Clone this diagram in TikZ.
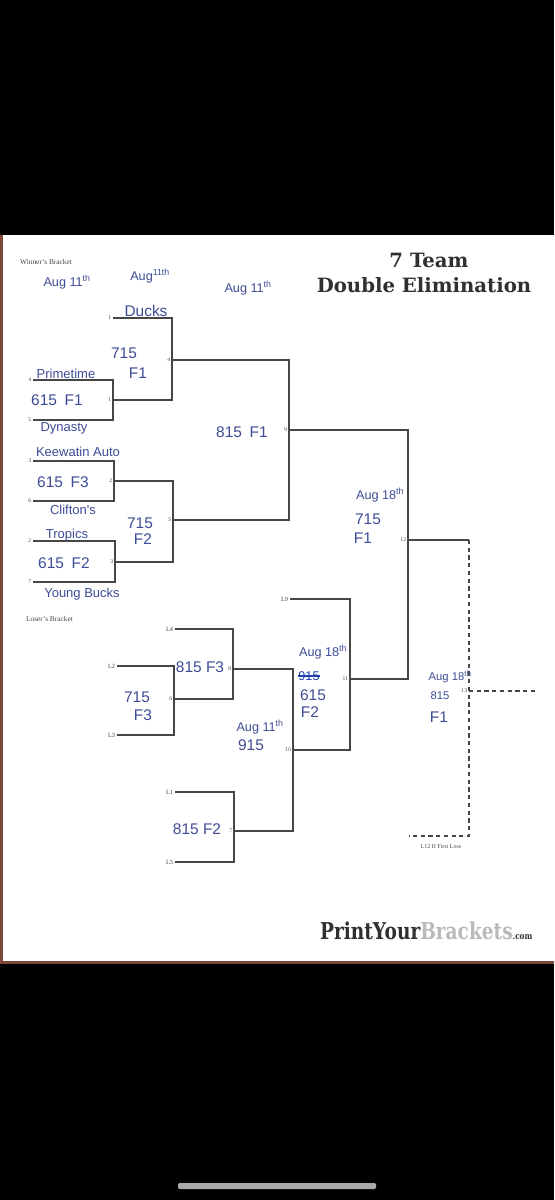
\documentclass[tikz,border=0pt]{standalone}
\usepackage{fontspec}
\setmainfont{Liberation Serif}
\newfontfamily\handfont{Liberation Sans}
\newfontfamily\slabfont{DejaVu Serif}
\newfontfamily\brandfont[FakeStretch=0.8]{DejaVu Serif}
\usetikzlibrary{calc}
\definecolor{cInk}{RGB}{62,76,150}
\definecolor{cInkDark}{RGB}{30,62,175}
\definecolor{cLine}{RGB}{70,70,70}
\definecolor{cTitle}{RGB}{48,48,48}
\definecolor{cBrandLight}{RGB}{185,185,185}
\definecolor{cEdge}{RGB}{125,72,58}
\definecolor{cBar}{RGB}{170,170,170}
\tikzset{
	bline/.style ={draw=cLine, line width=1.9pt},
	dline/.style ={draw=cLine, line width=1.9pt, dash pattern=on 6pt off 5pt},
	num/.style   ={anchor=east, inner sep=2.5pt, text=cLine, font=\fontsize{8}{8}\selectfont},
	lnum/.style  ={anchor=east, inner sep=2.5pt, text=cLine, font=\fontsize{9}{9}\selectfont},
	hand/.style  ={text=cInk, inner sep=0pt, font=\handfont\fontsize{22}{24}\selectfont},
	handname/.style={text=cInk, inner sep=0pt, font=\handfont\fontsize{18.5}{20}\selectfont},
	handsm/.style={text=cInk, inner sep=0pt, font=\handfont\fontsize{18}{20}\selectfont},
	handxs/.style={text=cInk, inner sep=0pt, font=\handfont\fontsize{16}{18}\selectfont},
	caption/.style={text=cLine, inner sep=0pt, font=\fontsize{10.5}{11}\selectfont},
	heading/.style={text=cTitle, inner sep=0pt, font=\slabfont\bfseries\fontsize{28}{30}\selectfont},
}

\begin{document}
\begin{tikzpicture}[x=0.05cm, y=-0.05cm]
	% ---------------- screen and paper ----------------
	\fill[black] (0,0) rectangle (554,1200);
	\fill[cEdge] (0,235) rectangle (554,964);
	\fill[white] (3,235) rectangle (554,961);
	\fill[cBar, rounded corners=2pt] (178,1183) rectangle (376,1189);

	% ---------------- headings ----------------
	\node[heading] (ttl1) at (429,260) {7 Team};
	\node[heading] (ttl2) at (424,285) {Double Elimination};
	\node[caption, anchor=west] (wcap) at (20,262) {Winner's Bracket};
	\node[caption, anchor=west] (lcap) at (26,619) {Loser's Bracket};
	\node[anchor=west, inner sep=0pt, font=\brandfont\bfseries\fontsize{33}{35}\selectfont] (brand) at (320,931)
		{\textcolor{cTitle}{PrintYour}\textcolor{cBrandLight}{Brackets}\textcolor{cTitle}{\fontsize{13}{13}\selectfont.com}};

	% ---------------- winner's bracket ----------------
	\coordinate (m1) at (113,400);
	\coordinate (m2) at (114,481);
	\coordinate (m3) at (115,562);
	\coordinate (m4) at (172,360);
	\coordinate (m5) at (173,520);
	\coordinate (m9) at (289,430);
	\coordinate (m12) at (408,540);
	\node[num] (s1) at (113,318) {1};
	\node[num] (s4) at (33,380) {4};
	\node[num] (s5) at (33,420) {5};
	\node[num] (s3) at (33,461) {3};
	\node[num] (s6) at (33,501) {6};
	\node[num] (s2) at (33,541) {2};
	\node[num] (s7) at (33,582) {7};
	\node[num] (n1) at (m1) {1};
	\node[num] (n2) at (m2) {2};
	\node[num] (n3) at (m3) {3};
	\node[num] (n4) at (m4) {4};
	\node[num] (n5) at (m5) {5};
	\node[num] (n9) at (m9) {9};
	\draw[bline] (s4.east) -| (m1);
	\draw[bline] (s5.east) -| (m1);
	\draw[bline] (s3.east) -| (m2);
	\draw[bline] (s6.east) -| (m2);
	\draw[bline] (s2.east) -| (m3);
	\draw[bline] (s7.east) -| (m3);
	\draw[bline] (s1.east) -| (m4);
	\draw[bline] (n1.east) -| (m4);
	\draw[bline] (n2.east) -| (m5);
	\draw[bline] (n3.east) -| (m5);
	\draw[bline] (n4.east) -| (m9);
	\draw[bline] (n5.east) -| (m9);
	\draw[bline] (n9.east) -| (m12);

	% ---------------- loser's bracket ----------------
	\coordinate (m6) at (174,699);
	\coordinate (m7) at (234,831);
	\coordinate (m8) at (233,669);
	\coordinate (m10) at (293,750);
	\coordinate (m11) at (350,679);
	\node[lnum] (sL4) at (175,629) {L4};
	\node[lnum] (sL2) at (117,666) {L2};
	\node[lnum] (sL3) at (117,735) {L3};
	\node[lnum] (sL1) at (175,792) {L1};
	\node[lnum] (sL5) at (175,862) {L5};
	\node[lnum] (sL9) at (290,599) {L9};
	\node[num] (n6) at (m6) {6};
	\node[num] (n7) at (m7) {7};
	\node[num] (n8) at (m8) {8};
	\node[num] (n10) at (m10) {10};
	\node[num] (n11) at (m11) {11};
	\draw[bline] (sL2.east) -| (m6);
	\draw[bline] (sL3.east) -| (m6);
	\draw[bline] (sL4.east) -| (m8);
	\draw[bline] (n6.east) -| (m8);
	\draw[bline] (sL1.east) -| (m7);
	\draw[bline] (sL5.east) -| (m7);
	\draw[bline] (n8.east) -| (m10);
	\draw[bline] (n7.east) -| (m10);
	\draw[bline] (sL9.east) -| (m11);
	\draw[bline] (n10.east) -| (m11);
	\draw[bline] (n11.east) -| (m12);

	% ---------------- finals ----------------
	\coordinate (c12) at (469,540);
	\coordinate (c12b) at (469,836);
	\coordinate (l12) at (409,836);
	\coordinate (e13) at (538,691);
	\node[num] (n12) at (m12) {12};
	\node[num] (n13) at (469,691) {13};
	\draw[bline] (n12.east) -- (c12);
	\draw[dline] (c12) -- (c12b) -- (l12);
	\draw[dline] (n13.east) -- (e13);
	\node[caption, font=\fontsize{8.5}{9}\selectfont] (l12cap) at (441,846) {L12 If First Loss};

	% ---------------- handwriting ----------------
	\node[handsm] (d1) at (67,282) {Aug 11\textsuperscript{th}};
	\node[handsm] (d2) at (150,276) {Aug\textsuperscript{11th}};
	\node[handsm] (d3) at (248,288) {Aug 11\textsuperscript{th}};
	\node[hand] (t1) at (146,311) {Ducks};
	\node[handname] (t4) at (66,374) {Primetime};
	\node[handname] (t5) at (64,428) {Dynasty};
	\node[handname] (t3) at (78,452) {Keewatin Auto};
	\node[handname] (t6) at (73,510) {Clifton's};
	\node[handname] (t2) at (67,535) {Tropics};
	\node[handname] (t7) at (82,594) {Young Bucks};
	\node[hand] (g1) at (57,400) {615\hspace{0.5em}F1};
	\node[hand] (g2) at (63,482) {615\hspace{0.5em}F3};
	\node[hand] (g3) at (64,563) {615\hspace{0.5em}F2};
	\node[hand] (g4a) at (124,353) {715};
	\node[hand] (g4b) at (138,373) {F1};
	\node[hand] (g5a) at (140,523) {715};
	\node[hand] (g5b) at (143,539) {F2};
	\node[hand] (g9) at (242,432) {815\hspace{0.5em}F1};
	\node[handsm] (g12a) at (380,495) {Aug 18\textsuperscript{th}};
	\node[hand] (g12b) at (368,519) {715};
	\node[hand] (g12c) at (363,538) {F1};
	\node[hand] (g8) at (200,667) {815 F3};
	\node[hand] (g6a) at (137,697) {715};
	\node[hand] (g6b) at (143,715) {F3};
	\node[handsm] (g10a) at (260,727) {Aug 11\textsuperscript{th}};
	\node[hand] (g10b) at (251,745) {915};
	\node[hand] (g7) at (197,829) {815 F2};
	\node[handsm] (g11a) at (323,652) {Aug 18\textsuperscript{th}};
	\node[handsm, text=cInkDark] (g11b) at (309,676) {915};
	\draw[cInkDark, line width=1.8pt] (g11b.west) -- (g11b.east);
	\node[hand] (g11c) at (313,695) {615};
	\node[hand] (g11d) at (310,712) {F2};
	\node[handxs] (g13a) at (450,677) {Aug 18\textsuperscript{th}};
	\node[handxs] (g13b) at (440,696) {815};
	\node[hand] (g13c) at (439,717) {F1};
\end{tikzpicture}
\end{document}
